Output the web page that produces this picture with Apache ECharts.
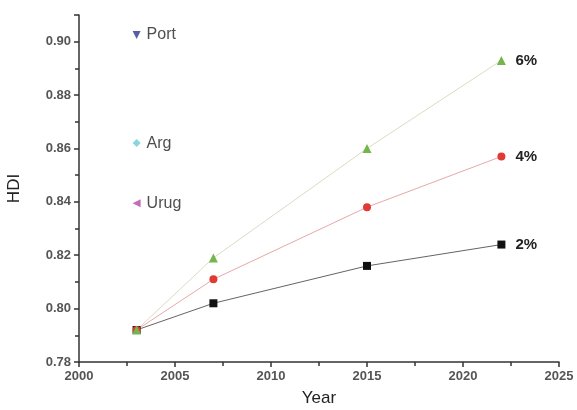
<!DOCTYPE html>
<html>
<head>
<meta charset="utf-8">
<script src="https://cdn.jsdelivr.net/npm/echarts@6/dist/echarts.min.js"></script>
<style>html,body{margin:0;padding:0;background:#fff}#c{width:577px;height:410px}</style>
</head>
<body>
<div id="c"></div>
<script>
var years = [2003, 2007, 2015, 2022];
var hdi2 = [0.792, 0.802, 0.816, 0.824];
var hdi4 = [0.792, 0.811, 0.838, 0.857];
var hdi6 = [0.792, 0.819, 0.860, 0.893];
var rateLabels = ['2%', '4%', '6%'];
var countries = ['Port', 'Arg', 'Urug'];
var countryYear = [2003, 2003, 2003];
var countryHdi = [0.9025, 0.862, 0.8395];
var xTicks = [2000, 2005, 2010, 2015, 2020, 2025];

function pairs(xs, ys) { return xs.map(function (x, i) { return [x, ys[i]]; }); }

var font = 'Liberation Sans, Arial, sans-serif';
var chart = echarts.init(document.getElementById('c'));

function rateSeries(name, vals, lineColor, markColor, symbol, size) {
  return {
    name: name, type: 'line', data: pairs(years, vals),
    symbol: symbol, symbolSize: size,
    lineStyle: { color: lineColor, width: 1 },
    itemStyle: { color: markColor },
    endLabel: { show: true, formatter: name, distance: 14, color: '#222', fontSize: 15, fontWeight: 'bold', fontFamily: font },
    animation: false, z: 3
  };
}
function countrySeries(i, symbol, color, size, rot) {
  return {
    name: countries[i], type: 'scatter', data: [[countryYear[i], countryHdi[i]]],
    symbol: symbol, symbolSize: size, symbolRotate: rot,
    itemStyle: { color: color },
    label: { show: true, position: 'right', distance: 6, formatter: countries[i], color: '#222', fontSize: 16, fontFamily: font },
    animation: false
  };
}

chart.setOption({
  backgroundColor: '#fff',
  animation: false,
  grid: { left: 79, right: 18, top: 15, bottom: 48, containLabel: false, outerBoundsMode: 'none' },
  xAxis: {
    type: 'value', min: xTicks[0], max: xTicks[xTicks.length - 1], interval: 5,
    name: 'Year', nameLocation: 'middle', nameGap: 28,
    nameTextStyle: { fontSize: 17, color: '#222', fontFamily: font },
    axisLine: { show: true, lineStyle: { color: '#333', width: 1.5 } },
    axisTick: { show: true, length: 5, lineStyle: { color: '#333', width: 1.5 } },
    minorTick: { show: true, splitNumber: 2, length: 4, lineStyle: { color: '#333', width: 1.5 } },
    splitLine: { show: false },
    axisLabel: { color: '#555', fontSize: 13, fontWeight: 'bold', fontFamily: font, margin: 8,
      formatter: function (v) { return String(v); } }
  },
  yAxis: {
    type: 'value', min: 0.78, max: 0.91, interval: 0.02,
    name: 'HDI', nameLocation: 'middle', nameGap: 56, nameRotate: 90,
    nameTextStyle: { fontSize: 17, color: '#222', fontFamily: font },
    axisLine: { show: true, lineStyle: { color: '#333', width: 1.5 } },
    axisTick: { show: true, length: 5, lineStyle: { color: '#333', width: 1.5 } },
    minorTick: { show: true, splitNumber: 2, length: 4, lineStyle: { color: '#333', width: 1.5 } },
    splitLine: { show: false },
    axisLabel: { color: '#555', fontSize: 13, fontWeight: 'bold', fontFamily: font, margin: 8, showMaxLabel: false,
      formatter: function (v) { return v.toFixed(2); } }
  },
  series: [
    rateSeries(rateLabels[0], hdi2, '#6a6262', '#111', 'rect', 8),
    rateSeries(rateLabels[1], hdi4, '#e9a8a8', '#e03a33', 'circle', 8),
    rateSeries(rateLabels[2], hdi6, '#dcdcc4', '#74b64c', 'triangle', 9),
    countrySeries(0, 'triangle', '#2c3a8c', 8, 180),
    countrySeries(1, 'diamond', '#6cc9d6', 8, 0),
    countrySeries(2, 'triangle', '#b04aa6', 8, 90)
  ]
});
</script>
</body>
</html>
